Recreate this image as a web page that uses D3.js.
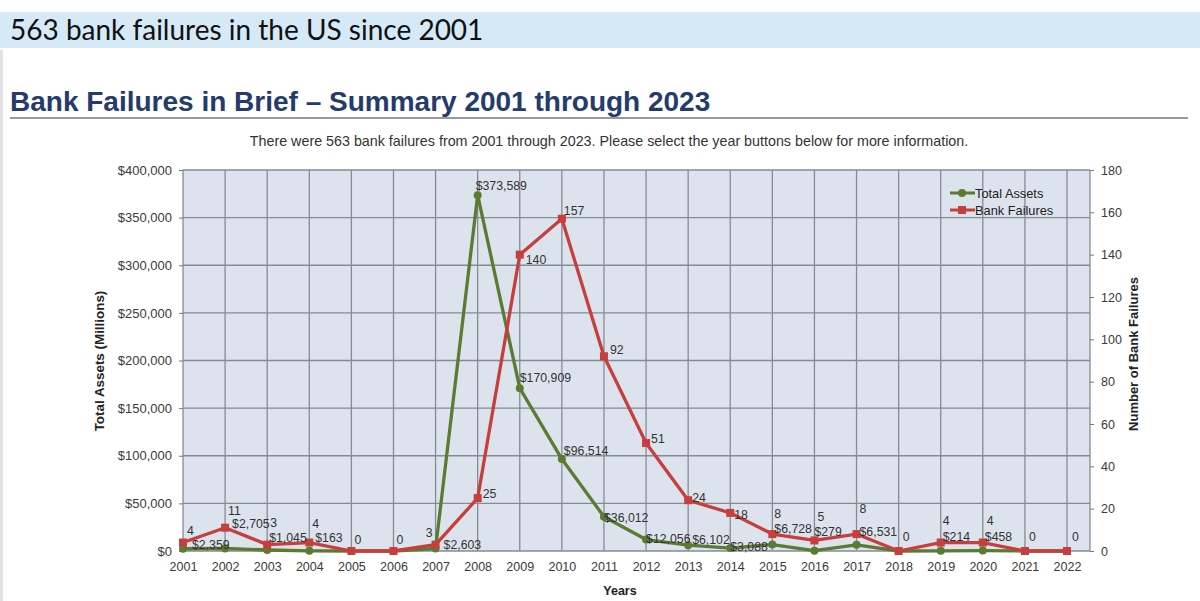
<!DOCTYPE html>
<html>
<head>
<meta charset="utf-8">
<script src="https://cdn.jsdelivr.net/npm/d3@7"></script>
<style>
  body { margin: 0; background: #fff; }
  svg { display: block; }
</style>
</head>
<body>
<div id="chart"></div>
<script>
// values
const years = [2001, 2002, 2003, 2004, 2005, 2006, 2007, 2008, 2009, 2010, 2011,
               2012, 2013, 2014, 2015, 2016, 2017, 2018, 2019, 2020, 2021, 2022];
const totalAssets = [2359, 2705, 1045, 163, 0, 0, 2603, 373589, 170909, 96514, 36012,
                     12056, 6102, 3088, 6728, 279, 6531, 0, 214, 458, 0, 0];
const bankFailures = [4, 11, 3, 4, 0, 0, 3, 25, 140, 157, 92,
                      51, 24, 18, 8, 5, 8, 0, 4, 4, 0, 0];
const assetTicks = [0, 50000, 100000, 150000, 200000, 250000, 300000, 350000, 400000];
const failureTicks = [0, 20, 40, 60, 80, 100, 120, 140, 160, 180];

// label nudges [dx, dy] from each point, copied from how the source chart placed them
const failNudge = [[4,-8],[3,-13],[3,-18],[3,-15],[3,-7],[3,-7],[-3,-8],[5,0],[6,9],[2,-4],[6,-2],
                   [5,0],[4,2],[4,6],[2,-16],[3,-19],[3,-21],[4,-10],[2,-18],[4,-18],[4,-10],[5,-10]];
const assetNudge = [[9,0],[7,-20],[2,-8],[6,-9],[0,0],[0,0],[8,0],[-2,-5],[0,-6],[2,-4],[0,5],
                    [0,3],[4,-1],[0,3],[2,-12],[0,-15],[3,-9],[0,0],[2,-10],[2,-10],[0,0],[0,0]];

const W = 1200, H = 601;
const font = "'Liberation Sans', Arial, sans-serif";
const green = "#5b7b32", red = "#c63e3e";

const svg = d3.select("#chart").append("svg")
  .attr("width", W)
  .attr("height", H);

// page header
svg.append("rect").attr("x", 0).attr("y", 12).attr("width", W).attr("height", 36).attr("fill", "#d5e9f6");
svg.append("rect").attr("x", 0).attr("y", 50).attr("width", 3).attr("height", H - 50).attr("fill", "#e2e2e2");
svg.append("text")
  .attr("x", 10).attr("y", 40)
  .attr("font-family", "Lato, 'Open Sans', sans-serif")
  .attr("font-size", 28)
  .attr("fill", "#111")
  .text("563 bank failures in the US since 2001");

svg.append("text")
  .attr("x", 10).attr("y", 111)
  .attr("font-family", font)
  .attr("font-weight", "bold")
  .attr("font-size", 28)
  .attr("fill", "#243b6b")
  .text("Bank Failures in Brief \u2013 Summary 2001 through 2023");
svg.append("line")
  .attr("x1", 10).attr("x2", 1188).attr("y1", 118).attr("y2", 118)
  .attr("stroke", "#9a9a9a").attr("stroke-width", 2);

svg.append("text")
  .attr("x", 609).attr("y", 146)
  .attr("text-anchor", "middle")
  .attr("font-family", font)
  .attr("font-size", 14.3)
  .attr("fill", "#333")
  .text("There were 563 bank failures from 2001 through 2023. Please select the year buttons below for more information.");

// scales
const x = d3.scaleLinear().domain([2001, 2022.546]).range([183, 1090]);
const yL = d3.scaleLinear().domain([0, 400000]).range([551, 170]);
const yR = d3.scaleLinear().domain([0, 180]).range([551, 170]);

// plot background + grid
svg.append("rect")
  .attr("x", x(2001)).attr("y", yL(400000))
  .attr("width", x(2022.546) - x(2001)).attr("height", yL(0) - yL(400000))
  .attr("fill", "#dde3ed");

const grid = svg.append("g").attr("stroke", "#858b96").attr("stroke-width", 1.3);
grid.selectAll(".vg").data(years.slice(1)).enter().append("line")
  .attr("x1", d => x(d)).attr("x2", d => x(d))
  .attr("y1", yL(400000)).attr("y2", yL(0));
grid.selectAll(".hg").data(assetTicks).enter().append("line")
  .attr("x1", x(2001)).attr("x2", x(2022.546))
  .attr("y1", d => yL(d)).attr("y2", d => yL(d));
grid.append("line")
  .attr("x1", x(2001)).attr("x2", x(2001)).attr("y1", yL(400000)).attr("y2", yL(0));
grid.append("line")
  .attr("x1", x(2022.546)).attr("x2", x(2022.546)).attr("y1", yL(400000)).attr("y2", yL(0));

// axes
const leftAxis = svg.append("g")
  .attr("transform", `translate(${x(2001)},0)`)
  .call(d3.axisLeft(yL).tickValues(assetTicks).tickSize(4).tickPadding(7)
    .tickFormat(d => "$" + d3.format(",")(d)));
const rightAxis = svg.append("g")
  .attr("transform", `translate(${x(2022.546)},0)`)
  .call(d3.axisRight(yR).tickValues(failureTicks).tickSize(4).tickPadding(7));
const bottomAxis = svg.append("g")
  .attr("transform", `translate(0,${yL(0)})`)
  .call(d3.axisBottom(x).tickValues(years).tickSize(0).tickPadding(11).tickFormat(d3.format("d")));

[leftAxis, rightAxis, bottomAxis].forEach(g => {
  g.select(".domain").remove();
  g.selectAll("line").attr("stroke", "#777");
  g.selectAll("text")
    .attr("font-family", font)
    .attr("font-size", 12.5)
    .attr("fill", "#3a3a3a");
});
leftAxis.selectAll("text").attr("font-size", 13);

// axis titles
svg.append("text")
  .attr("transform", "translate(104,361) rotate(-90)")
  .attr("text-anchor", "middle")
  .attr("font-family", font).attr("font-weight", "bold").attr("font-size", 13.4)
  .attr("fill", "#222")
  .text("Total Assets (Millions)");
svg.append("text")
  .attr("transform", "translate(1138,354) rotate(-90)")
  .attr("text-anchor", "middle")
  .attr("font-family", font).attr("font-weight", "bold").attr("font-size", 13)
  .attr("fill", "#222")
  .text("Number of Bank Failures");
svg.append("text")
  .attr("x", 620).attr("y", 595)
  .attr("text-anchor", "middle")
  .attr("font-family", font).attr("font-weight", "bold").attr("font-size", 12.5)
  .attr("fill", "#222")
  .text("Years");

// series
const assetsData = years.map((yr, i) => ({ yr, v: totalAssets[i], n: assetNudge[i] }));
const failData = years.map((yr, i) => ({ yr, v: bankFailures[i], n: failNudge[i] }));

svg.append("path")
  .datum(assetsData)
  .attr("fill", "none")
  .attr("stroke", green)
  .attr("stroke-width", 3.3)
  .attr("stroke-linejoin", "round")
  .attr("d", d3.line().x(d => x(d.yr)).y(d => yL(d.v)));
svg.selectAll(".aDot").data(assetsData).enter().append("circle")
  .attr("cx", d => x(d.yr)).attr("cy", d => yL(d.v)).attr("r", 4)
  .attr("fill", green);

svg.append("path")
  .datum(failData)
  .attr("fill", "none")
  .attr("stroke", red)
  .attr("stroke-width", 3.3)
  .attr("stroke-linejoin", "round")
  .attr("d", d3.line().x(d => x(d.yr)).y(d => yR(d.v)));
svg.selectAll(".fDot").data(failData).enter().append("rect")
  .attr("x", d => x(d.yr) - 4).attr("y", d => yR(d.v) - 4)
  .attr("width", 8).attr("height", 8)
  .attr("fill", red);

// value labels
const labels = svg.append("g")
  .attr("font-family", font)
  .attr("font-size", 12.3)
  .attr("fill", "#333");
labels.selectAll(".aLab").data(assetsData.filter(d => d.v > 0)).enter().append("text")
  .attr("x", d => x(d.yr) + d.n[0])
  .attr("y", d => yL(d.v) + d.n[1])
  .text(d => "$" + d3.format(",")(d.v));
labels.selectAll(".fLab").data(failData).enter().append("text")
  .attr("x", d => x(d.yr) + d.n[0])
  .attr("y", d => yR(d.v) + d.n[1])
  .attr("text-anchor", d => d.n[0] < 0 ? "end" : "start")
  .text(d => d.v);

// legend
const legend = svg.append("g").attr("font-family", font).attr("font-size", 12.8).attr("fill", "#222");
const legendItems = [
  { name: "Total Assets", color: green, shape: "circle" },
  { name: "Bank Failures", color: red, shape: "square" }
];
legendItems.forEach((it, i) => {
  const ly = 193 + i * 17;
  legend.append("line")
    .attr("x1", 950).attr("x2", 975).attr("y1", ly).attr("y2", ly)
    .attr("stroke", it.color).attr("stroke-width", 3);
  if (it.shape === "circle") {
    legend.append("circle").attr("cx", 962).attr("cy", ly).attr("r", 4).attr("fill", it.color);
  } else {
    legend.append("rect").attr("x", 958).attr("y", ly - 4).attr("width", 8).attr("height", 8).attr("fill", it.color);
  }
  legend.append("text").attr("x", 975).attr("y", ly + 4.5).text(it.name);
});
</script>
</body>
</html>
